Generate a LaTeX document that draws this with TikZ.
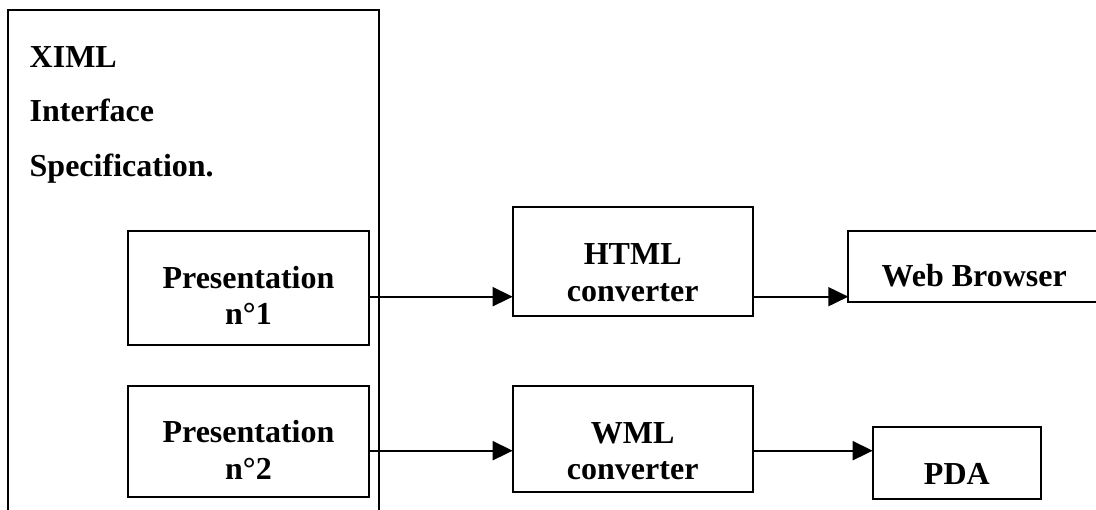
\documentclass[tikz,border=0pt]{standalone}
\usepackage{fontspec}
\setmainfont{Liberation Serif}
\usetikzlibrary{arrows.meta}

\begin{document}
\begin{tikzpicture}[x=1pt,y=-1pt,
  box/.style={draw=black,line width=2pt,rectangle,inner sep=0pt,outer sep=0pt},
  lbl/.style={inner sep=0pt,anchor=base,font=\fontsize{32}{38}\selectfont\bfseries},
  conn/.style={line width=1.8pt,-{Triangle[length=20pt,width=19pt]}}]
  \useasboundingbox (0,0) rectangle (1096,510);
  \clip (0,0) rectangle (1096,510);

  % outer specification frame (runs past the bottom edge)
  \node[box,minimum width=370.7pt,minimum height=530pt] (spec) at (193.65,275) {};
  \node[lbl,anchor=base west] (t1) at (29.5,68) {XIML};
  \node[lbl,anchor=base west] (t2) at (29.5,122) {Interface};
  \node[lbl,anchor=base west] (t3) at (29.5,177) {Specification.};

  % presentation boxes
  \node[box,minimum width=241pt,minimum height=114pt] (p1) at (248.5,288) {};
  \node[lbl] at (248.5,288.3) {Presentation};
  \node[lbl] at (248.5,325) {n°1};
  \node[box,minimum width=241pt,minimum height=111pt] (p2) at (248.5,441.5) {};
  \node[lbl] at (248.5,442.7) {Presentation};
  \node[lbl] at (248.5,480) {n°2};

  % converters
  \node[box,minimum width=240pt,minimum height=109.3pt] (html) at (632.7,261.35) {};
  \node[lbl] at (632.7,264.3) {HTML};
  \node[lbl] at (632.7,301.7) {converter};
  \node[box,minimum width=240pt,minimum height=106.6pt] (wml) at (632.7,439) {};
  \node[lbl] at (632.7,443.3) {WML};
  \node[lbl] at (632.7,480) {converter};

  % targets
  \node[box,minimum width=251.7pt,minimum height=71.6pt] (web) at (974.15,266.5) {};
  \node[lbl] at (974.15,286.7) {Web Browser};
  \node[box,minimum width=168.3pt,minimum height=71.7pt] (pda) at (956.85,463.15) {};
  \node[lbl] at (956.85,484.3) {PDA};

  % connector levels
  \coordinate (r1) at (0,296.7);
  \coordinate (r2) at (0,450.7);
  \draw[conn] (p1.east |- r1) -- (html.west |- r1);
  \draw[conn] (html.east |- r1) -- (web.west |- r1);
  \draw[conn] (p2.east |- r2) -- (wml.west |- r2);
  \draw[conn] (wml.east |- r2) -- (pda.west |- r2);
\end{tikzpicture}
\end{document}
